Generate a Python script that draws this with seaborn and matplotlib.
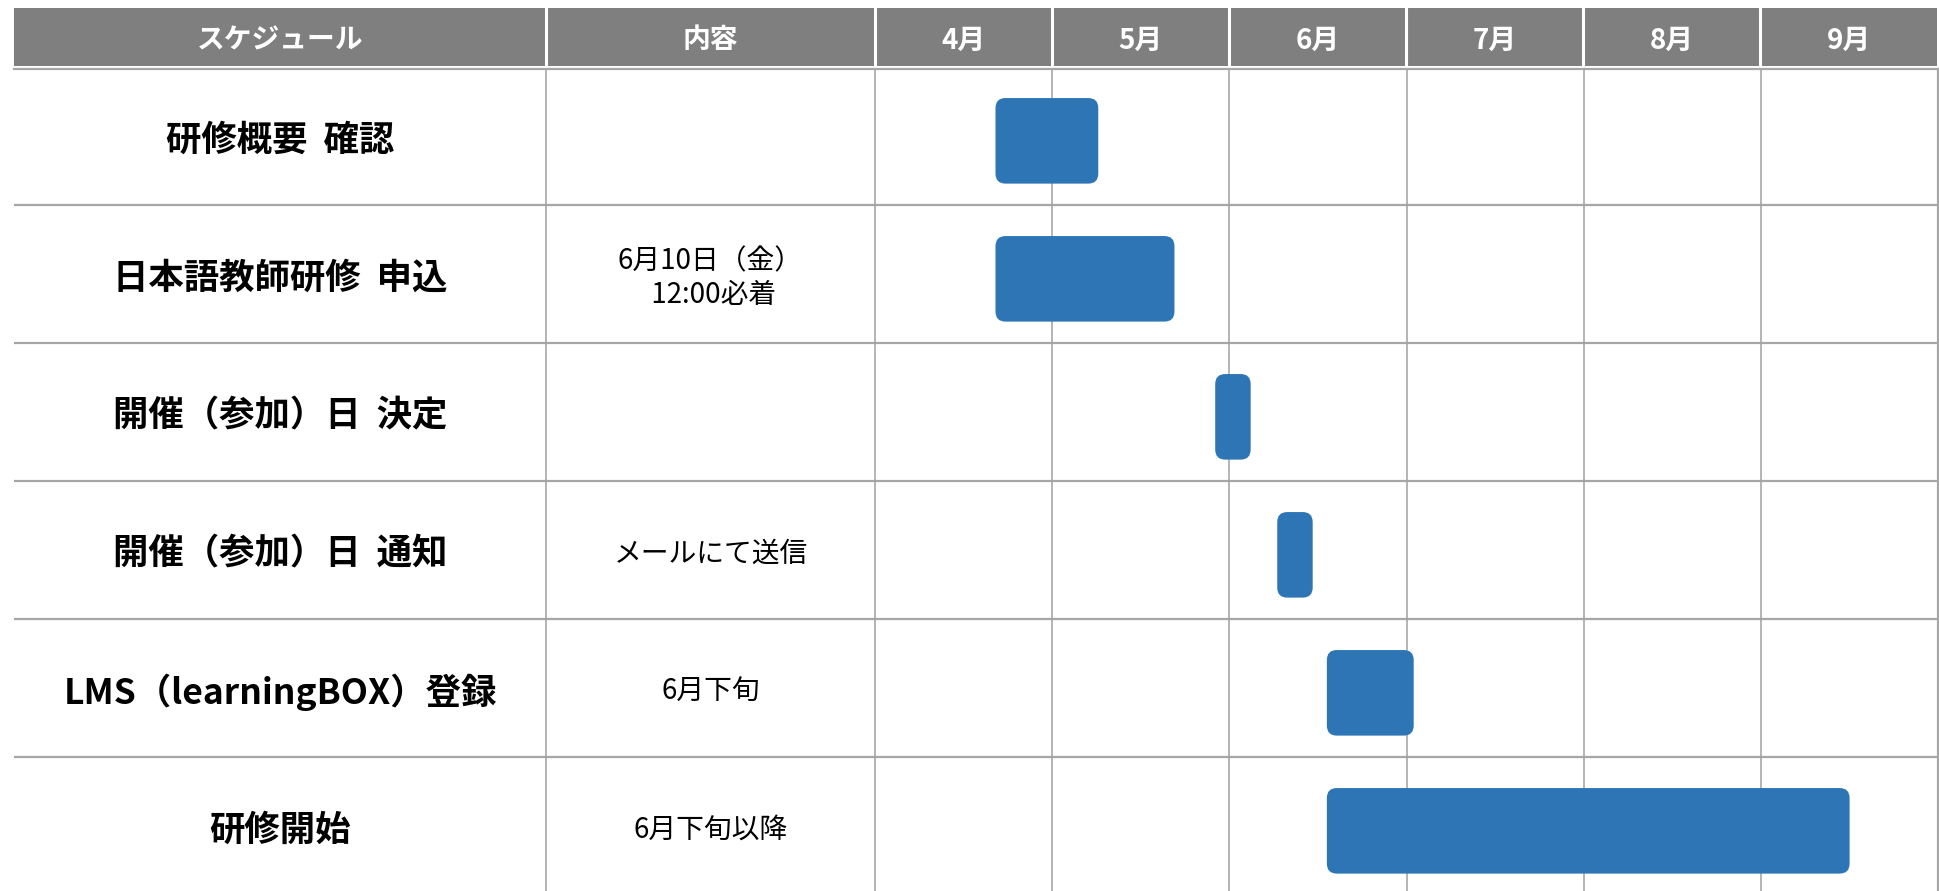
import numpy as np
import pandas as pd
import matplotlib
matplotlib.use("Agg")
import matplotlib.pyplot as plt
from matplotlib.patches import FancyBboxPatch
import seaborn as sns

# ---- data ----
header_cols = ["スケジュール", "内容"]
months = ["4月", "5月", "6月", "7月", "8月", "9月"]
tasks = ["研修概要  確認", "日本語教師研修  申込", "開催（参加）日  決定",
         "開催（参加）日  通知", "LMS（learningBOX）登録", "研修開始"]
contents = ["", "6月10日（金）\n 12:00必着", "", "メールにて送信", "6月下旬", "6月下旬以降"]
# start / end in months counted from the start of April (0 = 4/1)
start_m = [0.68, 0.68, 1.92, 2.27, 2.55, 2.55]
end_m = [1.26, 1.69, 2.12, 2.47, 3.04, 5.50]

sns.set_style("white")
plt.rcParams['font.family'] = ['Noto Sans CJK JP', 'DejaVu Sans']

W, H = 1940, 891
fig = plt.figure(figsize=(W / 100, H / 100), dpi=100)

# pixel layout helpers
x_left_px, x_right_px = 14, 1938
month0_px, month_px = 875, 177.2
col_split_px = 546
def px2m(px):
    return (px - month0_px) / month_px

xl, xr = px2m(x_left_px), px2m(x_right_px)
xsplit = px2m(col_split_px)

GRID_H = '#a6a6a6'
GRID_V = '#a0a0a0'
BAR = '#2E75B6'

# ---- header axes ----
hx0 = x_left_px / W
hw = (1937 - x_left_px) / W
hax = fig.add_axes([hx0, (H - 66) / H, hw, 58 / H])
hax.set_facecolor('#7f7f7f')
hax.set_xlim(xl, xr)
hax.set_ylim(0, 1)
hax.set_xticks([]); hax.set_yticks([])
for s in hax.spines.values():
    s.set_visible(False)
for xv in [xsplit, 0] + list(range(1, len(months))):
    hax.axvline(xv, color='white', lw=2.2)
col_centers = [(xl + xsplit) / 2, (xsplit + 0) / 2]
for c, lab in zip(col_centers, header_cols):
    hax.text(c, 0.44, lab, ha='center', va='center', color='white',
             fontsize=20, fontweight='bold')
for i, m in enumerate(months):
    hax.text(i + 0.5, 0.44, m, ha='center', va='center', color='white',
             fontsize=20, fontweight='bold')

# ---- body axes ----
top_px = 69
row_px = 138
ax = fig.add_axes([x_left_px / W, 0, (x_right_px - x_left_px) / W, (H - top_px) / H])

df = pd.DataFrame({"task": tasks, "start": start_m, "end": end_m})
df["dur"] = df["end"] - df["start"]
sns.barplot(data=df, y="task", x="dur", left=np.array(start_m), orient="h",
            color=BAR, width=0.62, saturation=1, ax=ax, zorder=3)

# replace bars by rounded boxes (slightly below row centre as in the original)
r_x = 10 / month_px
aspect = month_px / row_px
bar_dy = 0.035
for p in list(ax.patches):
    x0, y0, w, h = p.get_x(), p.get_y(), p.get_width(), p.get_height()
    fb = FancyBboxPatch((x0, y0 + bar_dy), w, h,
                        boxstyle=f"round,pad=0,rounding_size={r_x}",
                        mutation_aspect=aspect, facecolor=BAR, edgecolor='none',
                        zorder=3)
    p.remove()
    ax.add_patch(fb)

ax.set_xlim(xl, xr)
ytop = 0.5 + (top_px - 205) / row_px
ybot = 0.5 + (H - 205) / row_px
ax.set_ylim(ybot, ytop)
ax.set_xticks([]); ax.set_yticks([])
ax.set_xlabel(""); ax.set_ylabel("")

for k in range(1, len(tasks)):
    ax.axhline(k - 0.5, color=GRID_H, lw=1.6, zorder=1)
for xv in [xsplit, 0] + list(range(1, len(months))):
    ax.axvline(xv, color=GRID_V, lw=1.1, zorder=1)

ax.spines['left'].set_visible(False)
ax.spines['bottom'].set_visible(False)
ax.spines['top'].set_color(GRID_H)
ax.spines['top'].set_linewidth(1.6)
ax.spines['right'].set_color(GRID_H)
ax.spines['right'].set_linewidth(1.6)

txt_dy = 0.03
for i, (t, c) in enumerate(zip(tasks, contents)):
    ax.text(col_centers[0], i + txt_dy, t, ha='center', va='center', fontsize=25.5,
            fontweight='bold', color='black', zorder=4)
    if c:
        ax.text(col_centers[1], i + txt_dy, c, ha='center', va='center', fontsize=20,
                color='black', linespacing=1.2, multialignment='center', zorder=4)

fig.savefig("out.png", dpi=100)
